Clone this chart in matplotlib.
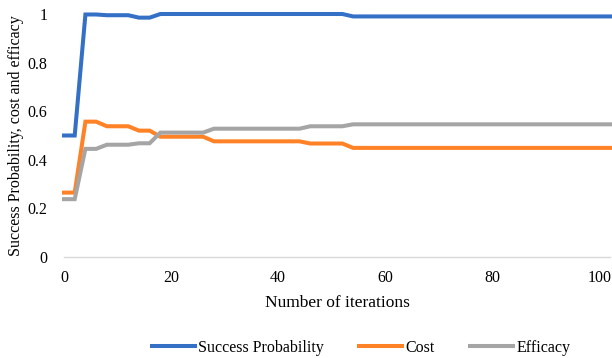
import matplotlib.pyplot as plt

plt.rcParams['font.family'] = ['Liberation Serif', 'DejaVu Serif']

# iterations, every 2 steps
iterations = list(range(0, 103, 2))

# values, piecewise per block of iterations
success_prob = ([0.5] * 2 + [0.998] * 2 + [0.995] * 3 + [0.985] * 2
                + [1.0] * 18 + [0.99] * 25)
cost = ([0.265] * 2 + [0.557] * 2 + [0.538] * 3 + [0.52] * 2
        + [0.495] * 5 + [0.476] * 9 + [0.467] * 4 + [0.449] * 25)
efficacy = ([0.238] * 2 + [0.445] * 2 + [0.462] * 3 + [0.468] * 2
            + [0.512] * 5 + [0.528] * 9 + [0.538] * 4 + [0.546] * 25)

series = [('Success Probability', success_prob, '#3370C6'),
          ('Cost', cost, '#FF8227'),
          ('Efficacy', efficacy, '#A5A5A5')]

fig = plt.figure(figsize=(6.12, 3.58), dpi=100)
ax = fig.add_axes([64 / 612, 1 - 257 / 358, (610 - 64) / 612, (257 - 14) / 358])

for name, vals, col in series:
    ax.plot(iterations, vals, color=col, linewidth=2.9, label=name,
            clip_on=False, solid_joinstyle='miter')

ax.set_xlim(0, 102)
ax.set_ylim(0, 1)
ax.set_xticks([0, 20, 40, 60, 80, 100])
ax.set_yticks([0, 0.2, 0.4, 0.6, 0.8, 1])
ax.set_yticklabels(['0', '0.2', '0.4', '0.6', '0.8', '1'])
ax.tick_params(length=0, labelsize=11.5, pad=12)
ax.tick_params(axis='x', pad=9)

for s in ['top', 'right', 'left']:
    ax.spines[s].set_visible(False)
ax.spines['bottom'].set_color('#D9D9D9')
ax.spines['bottom'].set_linewidth(1.0)
ax.spines['bottom'].set_zorder(0)

ax.set_xlabel('Number of iterations', fontsize=12.5, labelpad=7)
ax.set_ylabel('Success Probability, cost and efficacy', fontsize=11.5)
ax.yaxis.set_label_coords(-40 / 546, 0.5)

fig.legend(loc='center', bbox_to_anchor=(361 / 612, 1 - 348 / 358), ncol=3,
           frameon=False, fontsize=11.5, handlelength=2.7, columnspacing=2.2,
           handletextpad=0.2)

fig.savefig('out.png', dpi=100)
